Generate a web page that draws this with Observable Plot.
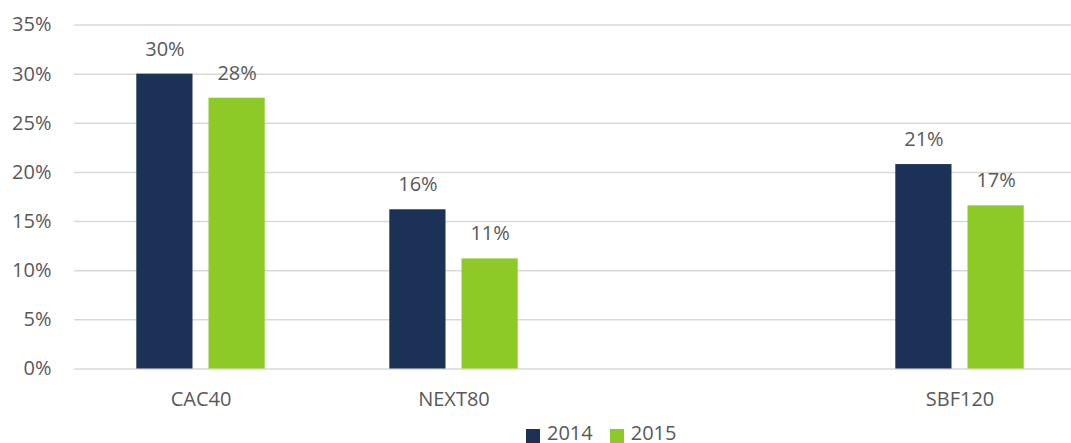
<!DOCTYPE html>
<html>
<head>
<meta charset="utf-8">
<script src="https://cdn.jsdelivr.net/npm/d3@7"></script>
<script src="https://cdn.jsdelivr.net/npm/@observablehq/plot@0.6"></script>
<style>
  html, body { margin: 0; padding: 0; background: #fff; overflow: hidden; width: 1071px; height: 443px; }
  #wrap { position: relative; width: 1071px; height: 443px; font-family: "Open Sans", sans-serif; }
  #legend { position: absolute; left: 526px; top: 423px; display: flex; align-items: center; font-size: 20px; line-height: 20px; color: #595959; }
  .item { display: flex; align-items: center; margin-right: 17px; }
  .sw { width: 14px; height: 14px; margin-right: 7px; position: relative; top: 3px; }
</style>
</head>
<body>
<div id="wrap"><div id="chart"></div><div id="legend"></div></div>
<script>
const categories = ["CAC40", "NEXT80", "", "SBF120"];
const years = ["2014", "2015"];
const values2014 = [0.300, 0.162, null, 0.208];
const values2015 = [0.2755, 0.112, null, 0.166];
const yTicks = [0, 0.05, 0.10, 0.15, 0.20, 0.25, 0.30, 0.35];
const colors = ["#1B3256", "#8DC927"];

const fmt = d3.format(".0%");
const rows = (vals) => categories.map((c, i) => ({category: c, value: vals[i]})).filter(d => d.value != null);
const rows2014 = rows(values2014);
const rows2015 = rows(values2015);

const textColor = "#595959";
const chart = Plot.plot({
  width: 1071,
  height: 420,
  marginLeft: 74,
  marginRight: 0,
  marginTop: 24.5,
  marginBottom: 51.5,
  style: {fontFamily: "Open Sans", fontSize: "20px", color: textColor, background: "#fff"},
  x: {type: "band", domain: categories, range: [73, 1086.3], padding: 0},
  y: {domain: [0, 0.35]},
  marks: [
    Plot.ruleY(yTicks, {stroke: "#d9d9d9", strokeWidth: 1.5}),
    Plot.barY(rows2014, {x: "category", y: "value", fill: colors[0], insetLeft: 62.3, insetRight: 134.5}),
    Plot.barY(rows2015, {x: "category", y: "value", fill: colors[1], insetLeft: 134.5, insetRight: 62.3}),
    Plot.text(rows2014, {x: "category", y: "value", text: d => fmt(d.value), dx: -36.1, dy: -25, fill: textColor, fontSize: 20}),
    Plot.text(rows2015, {x: "category", y: "value", text: d => fmt(d.value), dx: 36.1, dy: -25, fill: textColor, fontSize: 20}),
    Plot.axisY({ticks: yTicks, tickFormat: fmt, tickSize: 0, tickPadding: 23, fontSize: 20, label: null}),
    Plot.axisX({tickSize: 0, tickPadding: 23, fontSize: 20, label: null})
  ]
});
document.getElementById("chart").appendChild(chart);

const legend = document.getElementById("legend");
years.forEach((y, i) => {
  const item = document.createElement("div");
  item.className = "item";
  const sw = document.createElement("span");
  sw.className = "sw";
  sw.style.background = colors[i];
  const t = document.createElement("span");
  t.textContent = y;
  item.appendChild(sw);
  item.appendChild(t);
  legend.appendChild(item);
});
</script>
</body>
</html>
